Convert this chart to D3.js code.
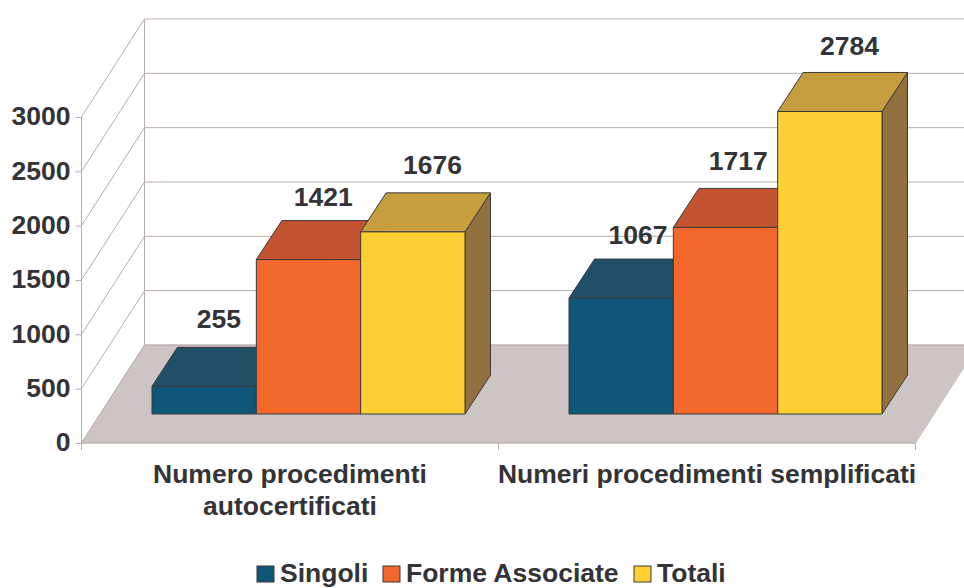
<!DOCTYPE html>
<html>
<head>
<meta charset="utf-8">
<script src="https://cdn.jsdelivr.net/npm/d3@7"></script>
<style>
html, body { margin: 0; padding: 0; background: #fff; }
svg { display: block; }
text { font-family: "Liberation Sans", Arial, sans-serif; font-weight: bold; font-size: 26.5px; fill: #333338; }
</style>
</head>
<body>
<div id="root"></div>
<script>
const categories = [["Numero procedimenti", "autocertificati"], ["Numeri procedimenti semplificati"]];
const seriesNames = ["Singoli", "Forme Associate", "Totali"];
const singoli = [255, 1067];
const formeAssociate = [1421, 1717];
const totali = [1676, 2784];
const yTicks = [0, 500, 1000, 1500, 2000, 2500, 3000];

const width = 964, height = 588;
const colors = [
    { front: "#0f5779", top: "#1f5068", side: "#123f55" },
    { front: "#f4672a", top: "#c45330", side: "#a04a28" },
    { front: "#ffcf33", top: "#c69e3d", side: "#93713f" }
];
const gridColor = "#b8aeaa", floorColor = "#ccc5c3", edge = "#3a3a3e";

// plot box, front plane of the floor
const x0 = 81.5, x1 = 915.5;
const depthX = 63, depthY = -98;       // floor depth
const barDepthX = 25.5, barDepthY = -39;
const barInsetX = 18.5, barInsetY = -29; // where the bars stand on the floor

// hand nudges for the value labels, [series][category]
const labelDx = [[2, 4], [2, 0], [7, 7]];
const labelDy = [[-19, -15], [-15, -18], [-19, -17]];

const svg = d3.select("#root").append("svg")
    .attr("width", width)
    .attr("height", height);

const x = d3.scaleBand().domain(d3.range(categories.length)).range([x0, x1]);
const y = d3.scaleLinear().domain([0, 3000]).range([443, 117]);
const xBar = d3.scaleBand().domain(d3.range(seriesNames.length))
    .range([52, x.bandwidth() - 52]);

const poly = pts => pts.map(p => p.join(",")).join(" ");

// floor
svg.append("polygon")
    .attr("points", poly([[x0, y(0)], [x1, y(0)], [x1 + depthX, y(0) + depthY], [x0 + depthX, y(0) + depthY]]))
    .attr("fill", floorColor)
    .attr("stroke", floorColor);

// walls and gridlines
const grid = svg.append("g").attr("stroke", gridColor).attr("fill", "none");
yTicks.forEach(t => {
    if (t > 0) {
        grid.append("line")
            .attr("x1", x0).attr("y1", y(t))
            .attr("x2", x0 + depthX).attr("y2", y(t) + depthY);
    }
    grid.append("line")
        .attr("x1", x0 + depthX).attr("y1", y(t) + depthY)
        .attr("x2", width).attr("y2", y(t) + depthY);
});
grid.append("line")
    .attr("x1", x0 + depthX).attr("y1", y(0) + depthY)
    .attr("x2", x0 + depthX).attr("y2", y(3000) + depthY);
grid.append("line")
    .attr("x1", x0).attr("y1", y(0))
    .attr("x2", x0 + depthX).attr("y2", y(0) + depthY);

// y axis
const yAxis = svg.append("g")
    .attr("transform", `translate(${x0},0)`)
    .call(d3.axisLeft(y).tickValues(yTicks).tickSize(6).tickPadding(5).tickFormat(d3.format("d")));
yAxis.selectAll("path, line").attr("stroke", gridColor);
yAxis.select(".domain").attr("d", `M0,${y(3000)}V${y(0)}`);
yAxis.selectAll("text")
    .style("font-family", "'Liberation Sans', Arial, sans-serif")
    .style("font-size", "26.5px")
    .style("font-weight", "bold")
    .attr("dy", "0.3em");

// x axis ticks
svg.append("line")
    .attr("x1", x0).attr("y1", y(0)).attr("x2", x1).attr("y2", y(0))
    .attr("stroke", gridColor);
[0, 1, 2].forEach(i => {
    const tx = i < 2 ? x(i) : x1;
    svg.append("line")
        .attr("x1", tx).attr("y1", y(0)).attr("x2", tx).attr("y2", y(0) + 7)
        .attr("stroke", gridColor);
});

// bars
const series = [singoli, formeAssociate, totali];
const barsG = svg.append("g")
    .attr("stroke", edge)
    .attr("stroke-width", 1)
    .attr("stroke-linejoin", "round");

categories.forEach((cat, c) => {
    series.forEach((vals, s) => {
        const left = x(c) + xBar(s) + barInsetX;
        const right = left + xBar.bandwidth();
        const base = y(0) + barInsetY;
        const top = base - (y(0) - y(vals[c]));
        const col = colors[s];
        barsG.append("polygon")
            .attr("points", poly([[right, base], [right + barDepthX, base + barDepthY], [right + barDepthX, top + barDepthY], [right, top]]))
            .attr("fill", col.side);
        barsG.append("polygon")
            .attr("points", poly([[left, top], [right, top], [right + barDepthX, top + barDepthY], [left + barDepthX, top + barDepthY]]))
            .attr("fill", col.top);
        barsG.append("rect")
            .attr("x", left).attr("y", top)
            .attr("width", right - left).attr("height", base - top)
            .attr("fill", col.front);
    });
});

// value labels, drawn last so bars never cover them
categories.forEach((cat, c) => {
    series.forEach((vals, s) => {
        const left = x(c) + xBar(s) + barInsetX;
        const base = y(0) + barInsetY;
        const top = base - (y(0) - y(vals[c]));
        svg.append("text")
            .attr("x", left + xBar.bandwidth() / 2 + barDepthX / 2 + labelDx[s][c])
            .attr("y", top + barDepthY + labelDy[s][c])
            .attr("text-anchor", "middle")
            .text(vals[c]);
    });
});

// category labels
categories.forEach((cat, c) => {
    cat.forEach((line, i) => {
        svg.append("text")
            .attr("x", x(c) + x.bandwidth() / 2)
            .attr("y", 483 + i * 32)
            .attr("text-anchor", "middle")
            .text(line);
    });
});

// legend
const legendX = [257, 383, 634];
seriesNames.forEach((name, i) => {
    svg.append("rect")
        .attr("x", legendX[i]).attr("y", 566)
        .attr("width", 17).attr("height", 16)
        .attr("fill", colors[i].front)
        .attr("stroke", edge);
    svg.append("text")
        .attr("x", legendX[i] + 23)
        .attr("y", 582)
        .text(name);
});
</script>
</body>
</html>
